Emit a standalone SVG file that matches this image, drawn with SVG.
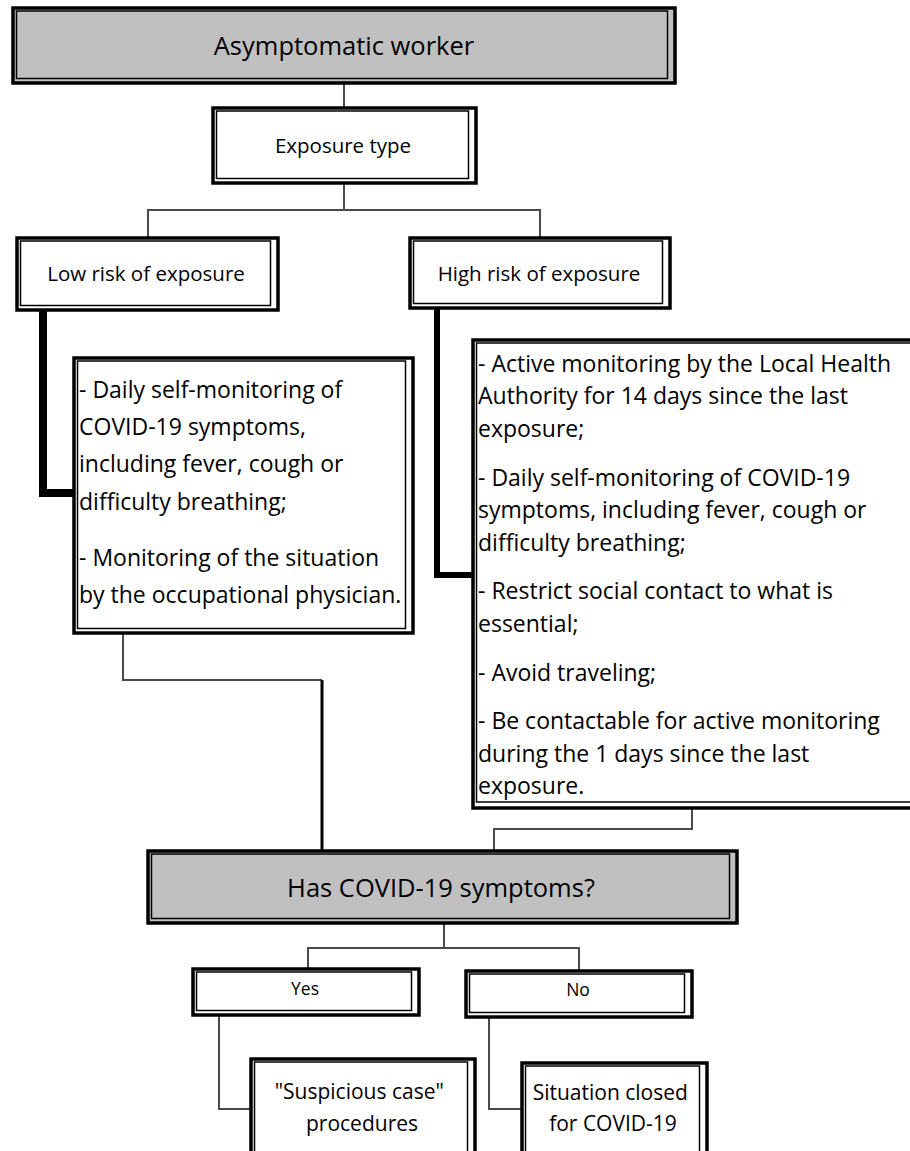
<svg xmlns="http://www.w3.org/2000/svg" width="910" height="1151" viewBox="0 0 910 1151">
<style>
.o{stroke:#000;stroke-width:3.5;}
.i{fill:none;stroke:#000;stroke-width:1.5;}
.w{fill:#fff;}
.g{fill:#c0c0c0;}
.t{font-family:"Open Sans","Liberation Sans",sans-serif;fill:#000;}
.c{fill:none;stroke:#4a4a4a;stroke-width:2;}
.b{fill:none;stroke:#000;}
</style>
<rect width="910" height="1151" fill="#fff"/>
<g id="connectors">
<path class="c" d="M344,83 V107"/>
<path class="c" d="M344,183 V210 M148,237 V210 H540 V237"/>
<path class="b" stroke-width="8" d="M43,310 V493 H76"/>
<path class="b" stroke-width="6" d="M437,308 V575 H475"/>
<path class="c" d="M123,633 V680 H322"/>
<path class="b" stroke-width="3" d="M322,680 V851"/>
<path class="c" d="M692,808 V829 H494 V851"/>
<path class="c" d="M444,923 V948 M308,969 V948 H579 V971"/>
<path class="c" d="M219,1015 V1109 H251"/>
<path class="c" d="M489,1017 V1109 H522"/>
</g>
<g id="n-asymptomatic">
<rect class="o g" x="13" y="8" width="662" height="75"/>
<rect class="i" x="16.5" y="11" width="651" height="67.5"/>
<text class="t" x="344" y="55" font-size="25.5" text-anchor="middle">Asymptomatic worker</text>
</g>
<g id="n-exposure">
<rect class="o w" x="213" y="108" width="263" height="75"/>
<rect class="i" x="216.5" y="111" width="252" height="67.5"/>
<text class="t" x="343" y="153" font-size="20.5" text-anchor="middle">Exposure type</text>
</g>
<g id="n-low">
<rect class="o w" x="17" y="238" width="261" height="72"/>
<rect class="i" x="20.5" y="241" width="250" height="64.5"/>
<text class="t" x="146" y="281" font-size="20.5" text-anchor="middle">Low risk of exposure</text>
</g>
<g id="n-high">
<rect class="o w" x="410" y="238" width="260" height="70"/>
<rect class="i" x="413.5" y="241" width="249" height="62.5"/>
<text class="t" x="539" y="281" font-size="20.5" text-anchor="middle">High risk of exposure</text>
</g>
<g id="n-low-actions">
<rect class="o w" x="74" y="358" width="339" height="275"/>
<rect class="i" x="77.5" y="361" width="328" height="267.5"/>
<text class="t" font-size="23">
<tspan x="79" y="398">- Daily self-monitoring of</tspan>
<tspan x="79" y="435">COVID-19 symptoms,</tspan>
<tspan x="79" y="472">including fever, cough or</tspan>
<tspan x="79" y="510">difficulty breathing;</tspan>
<tspan x="79" y="566">- Monitoring of the situation</tspan>
<tspan x="79" y="603">by the occupational physician.</tspan>
</text>
</g>
<g id="n-high-actions">
<rect class="o w" x="473" y="340" width="460" height="468"/>
<rect class="i" x="476.5" y="343" width="460" height="459"/>
<text class="t" font-size="23">
<tspan x="478" y="372">- Active monitoring by the Local Health</tspan>
<tspan x="478" y="404">Authority for 14 days since the last</tspan>
<tspan x="478" y="437">exposure;</tspan>
<tspan x="478" y="486">- Daily self-monitoring of COVID-19</tspan>
<tspan x="478" y="518">symptoms, including fever, cough or</tspan>
<tspan x="478" y="551">difficulty breathing;</tspan>
<tspan x="478" y="599">- Restrict social contact to what is</tspan>
<tspan x="478" y="632">essential;</tspan>
<tspan x="478" y="681">- Avoid traveling;</tspan>
<tspan x="478" y="729">- Be contactable for active monitoring</tspan>
<tspan x="478" y="762">during the 1 days since the last</tspan>
<tspan x="478" y="794">exposure.</tspan>
</text>
</g>
<g id="n-symptoms">
<rect class="o g" x="148" y="851" width="589" height="72"/>
<rect class="i" x="151.5" y="854" width="578" height="64.5"/>
<text class="t" x="441" y="897" font-size="25.5" text-anchor="middle">Has COVID-19 symptoms?</text>
</g>
<g id="n-yes">
<rect class="o w" x="193" y="969" width="226" height="46"/>
<rect class="i" x="196.5" y="972" width="215" height="38.5"/>
<text class="t" x="305" y="995" font-size="17.5" text-anchor="middle">Yes</text>
</g>
<g id="n-no">
<rect class="o w" x="466" y="971" width="226" height="46"/>
<rect class="i" x="469.5" y="974" width="215" height="38.5"/>
<text class="t" x="578" y="996" font-size="17.5" text-anchor="middle">No</text>
</g>
<g id="n-suspicious">
<rect class="o w" x="251" y="1059" width="224" height="110"/>
<rect class="i" x="254.5" y="1062" width="213" height="103"/>
<text class="t" font-size="21" text-anchor="middle">
<tspan x="362" y="1099">"Suspicious case"</tspan>
<tspan x="362" y="1131">procedures</tspan>
</text>
</g>
<g id="n-closed">
<rect class="o w" x="522" y="1063" width="185" height="110"/>
<rect class="i" x="525.5" y="1066" width="174" height="103"/>
<text class="t" font-size="21" text-anchor="middle">
<tspan x="613" y="1100">Situation closed</tspan>
<tspan x="613" y="1131">for COVID-19</tspan>
</text>
</g>
</svg>
